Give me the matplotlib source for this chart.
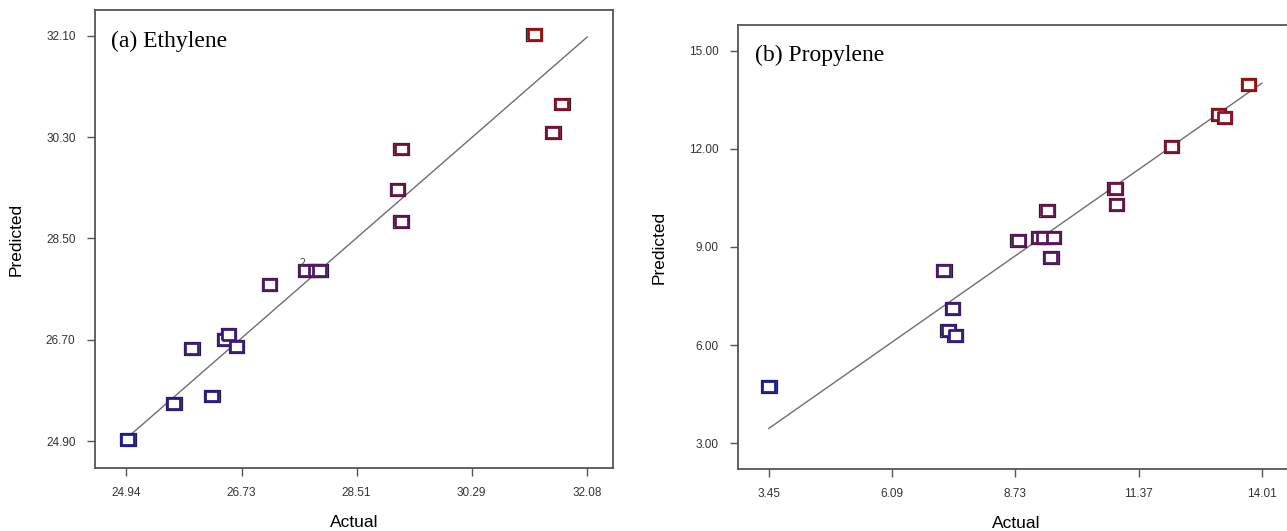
import numpy as np
import matplotlib
matplotlib.use("Agg")
import matplotlib.pyplot as plt
from matplotlib.colors import LinearSegmentedColormap

# (a) Ethylene - actual vs predicted
eth_actual = [24.97, 25.68, 25.96, 26.27, 26.47, 26.53, 26.65, 27.16, 27.72, 27.88, 27.94,
              29.14, 29.20, 29.20, 31.26, 31.69, 31.55]
eth_pred = [24.92, 25.56, 26.54, 25.70, 26.70, 26.79, 26.58, 27.68, 27.93, 27.93, 27.93,
            29.37, 30.09, 28.80, 32.12, 30.89, 30.39]
eth_xticks = [24.94, 26.73, 28.51, 30.29, 32.08]
eth_yticks = [24.90, 26.70, 28.50, 30.30, 32.10]

# (b) Propylene - actual vs predicted
pro_actual = [3.45, 7.20, 7.38, 7.29, 7.44, 8.79, 9.23, 9.33, 9.55, 9.41, 9.49,
              10.87, 10.90, 12.08, 13.08, 13.21, 13.72]
pro_pred = [4.74, 8.28, 7.12, 6.45, 6.30, 9.20, 9.29, 9.29, 9.29, 10.11, 8.69,
            10.80, 10.30, 12.07, 13.05, 12.97, 13.97]
pro_xticks = [3.45, 6.09, 8.73, 11.37, 14.01]
pro_yticks = [3.00, 6.00, 9.00, 12.00, 15.00]

cmap = LinearSegmentedColormap.from_list("de", ["#1c1c96", "#4a1a70", "#6e1240", "#a00d0d"])
rect = [(-1.2, -1), (1.2, -1), (1.2, 1), (-1.2, 1), (-1.2, -1)]


def panel(ax, actual, pred, xticks, yticks, xlim, ylim, title):
    lo, hi = min(pred), max(pred)
    cols = cmap((np.array(pred) - lo) / (hi - lo))
    # y = x reference line
    ax.plot([xticks[0], xticks[-1]], [xticks[0], xticks[-1]], color="#6e6e6e", lw=1.0, zorder=1)
    ax.scatter(actual, pred, marker=rect, s=125, facecolors="none", edgecolors="#222222",
               linewidths=0.9, zorder=2)
    ax.scatter(actual, pred, marker=rect, s=88, facecolors="white", edgecolors=cols,
               linewidths=2.0, zorder=3)
    ax.set_xlim(*xlim)
    ax.set_ylim(*ylim)
    ax.set_xticks(xticks)
    ax.set_xticklabels([f"{t:.2f}" for t in xticks])
    ax.set_yticks(yticks)
    ax.set_yticklabels([f"{t:.2f}" for t in yticks])
    ax.tick_params(direction="out", length=6, width=1.0, color="#555555",
                   labelsize=8.5, labelcolor="#333333", pad=8)
    for lab in ax.get_xticklabels() + ax.get_yticklabels():
        lab.set_family(["Liberation Sans Narrow", "Liberation Sans", "DejaVu Sans"])
    for sp in ax.spines.values():
        sp.set_color("#555555")
        sp.set_linewidth(1.3)
    ax.set_xlabel("Actual", fontsize=12.5, family="Liberation Sans", labelpad=11)
    ax.set_ylabel("Predicted", fontsize=12.5, family="Liberation Sans", labelpad=16)
    ax.text(0.03, 0.955, title, transform=ax.transAxes, fontsize=17,
            family="Liberation Serif", va="top", ha="left")


fig = plt.figure(figsize=(12.87, 5.31), dpi=100)
ax1 = fig.add_axes([0.0738, 0.1186, 0.4025, 0.8625])
ax2 = fig.add_axes([0.5734, 0.1168, 0.4328, 0.8361])

panel(ax1, eth_actual, eth_pred, eth_xticks, eth_yticks, (24.46, 32.48), (24.42, 32.56), "(a) Ethylene")
ax1.text(eth_actual[8] - 0.05, eth_pred[8] + 0.04, "2", fontsize=7, color="#444444",
         ha="center", va="bottom", zorder=4)
panel(ax2, pro_actual, pro_pred, pro_xticks, pro_yticks, (2.79, 14.72), (2.21, 15.79), "(b) Propylene")

fig.savefig("out.png", dpi=100)
